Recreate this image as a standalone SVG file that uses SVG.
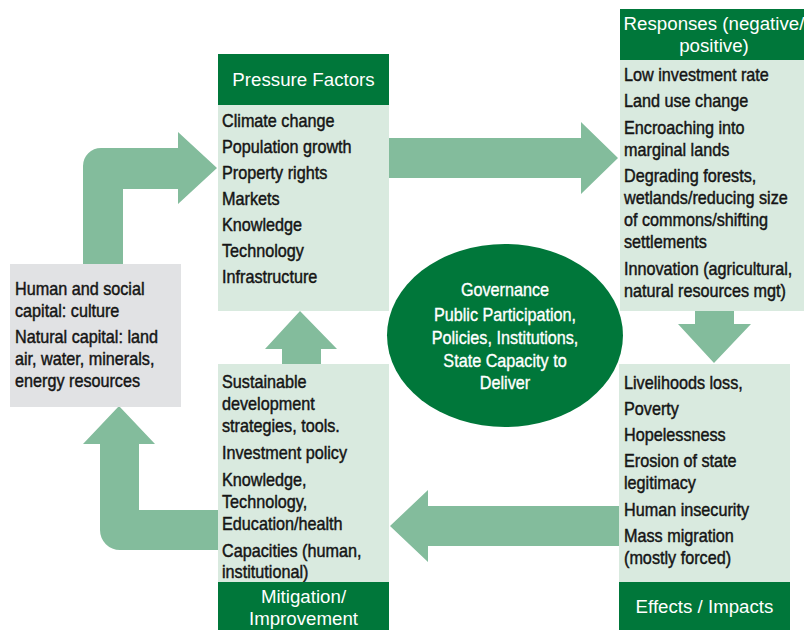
<svg xmlns="http://www.w3.org/2000/svg" width="804" height="630" viewBox="0 0 804 630">
<style>
.hdr{fill:#00773a}
.body{fill:#d9eadf}
.grey{fill:#e1e2e4}
.arrow{fill:#83bc9c}
.ht{font-family:"Liberation Sans",Arial,sans-serif;font-size:18.7px;fill:#ffffff}
.bt{font-family:"Liberation Sans",Arial,sans-serif;font-size:18px;fill:#151515;stroke:#151515;stroke-width:0.45px}
.wt{font-family:"Liberation Sans",Arial,sans-serif;font-size:18px;fill:#ffffff;stroke:#ffffff;stroke-width:0.35px;text-anchor:middle}
</style>
<rect width="804" height="630" fill="#ffffff"/>
<g id="connectors">
<path class="arrow" d="M83,264 L83,166 A18,18 0 0 1 101,148 L178,148 L178,132 L217,168 L178,204 L178,189 L123,189 L123,264 Z"/>
<path class="arrow" d="M119,406 L155,444 L139,444 L139,510 L218,510 L218,550 L120,550 A20,20 0 0 1 100,530 L100,444 L83,444 Z"/>
<path class="arrow" d="M300,311 L337,349 L321,349 L321,364 L282,364 L282,349 L265,349 Z"/>
<path class="arrow" d="M389,138 L581,138 L581,122 L618,158 L581,194 L581,178 L389,178 Z"/>
<path class="arrow" d="M695,310 L734,310 L734,324 L751,324 L714,363 L678,324 L695,324 Z"/>
<path class="arrow" d="M619,506 L428,506 L428,490 L390,526 L428,562 L428,546 L619,546 Z"/>
</g>
<g id="capital">
<rect class="grey" x="10" y="264" width="171" height="143"/>
<g transform="translate(15 0) scale(0.9 1)">
<text class="bt" x="0" y="295">Human and social</text>
<text class="bt" x="0" y="317">capital: culture</text>
<text class="bt" x="0" y="343">Natural capital: land</text>
<text class="bt" x="0" y="365">air, water, minerals,</text>
<text class="bt" x="0" y="387">energy resources</text>
</g>
</g>
<g id="pressure">
<rect class="hdr" x="218" y="54" width="171" height="51"/>
<text class="ht" x="303.5" y="86" text-anchor="middle">Pressure Factors</text>
<rect class="body" x="218" y="105" width="171" height="206"/>
<g transform="translate(222 0) scale(0.9 1)">
<text class="bt" x="0" y="127">Climate change</text>
<text class="bt" x="0" y="153">Population growth</text>
<text class="bt" x="0" y="179">Property rights</text>
<text class="bt" x="0" y="205">Markets</text>
<text class="bt" x="0" y="231">Knowledge</text>
<text class="bt" x="0" y="257">Technology</text>
<text class="bt" x="0" y="283">Infrastructure</text>
</g>
</g>
<g id="responses">
<rect class="hdr" x="620" y="9" width="184" height="51"/>
<text class="ht" x="714" y="30" text-anchor="middle">Responses (negative/</text>
<text class="ht" x="714" y="52" text-anchor="middle">positive)</text>
<rect class="body" x="620" y="60" width="184" height="251"/>
<g transform="translate(624 0) scale(0.9 1)">
<text class="bt" x="0" y="81">Low investment rate</text>
<text class="bt" x="0" y="107">Land use change</text>
<text class="bt" x="0" y="134">Encroaching into</text>
<text class="bt" x="0" y="156">marginal lands</text>
<text class="bt" x="0" y="182">Degrading forests,</text>
<text class="bt" x="0" y="204">wetlands/reducing size</text>
<text class="bt" x="0" y="226">of commons/shifting</text>
<text class="bt" x="0" y="248">settlements</text>
<text class="bt" x="0" y="275">Innovation (agricultural,</text>
<text class="bt" x="0" y="297">natural resources mgt)</text>
</g>
</g>
<g id="governance">
<ellipse class="hdr" cx="505" cy="335.5" rx="118" ry="91.5"/>
<g transform="translate(505 0) scale(0.9 1)">
<text class="wt" x="0" y="296">Governance</text>
<text class="wt" x="0" y="321">Public Participation,</text>
<text class="wt" x="0" y="344">Policies, Institutions,</text>
<text class="wt" x="0" y="367">State Capacity to</text>
<text class="wt" x="0" y="389">Deliver</text>
</g>
</g>
<g id="mitigation">
<rect class="body" x="218" y="364" width="171" height="218"/>
<g transform="translate(222 0) scale(0.9 1)">
<text class="bt" x="0" y="388">Sustainable</text>
<text class="bt" x="0" y="410">development</text>
<text class="bt" x="0" y="432">strategies, tools.</text>
<text class="bt" x="0" y="459">Investment policy</text>
<text class="bt" x="0" y="486">Knowledge,</text>
<text class="bt" x="0" y="508">Technology,</text>
<text class="bt" x="0" y="530">Education/health</text>
<text class="bt" x="0" y="557">Capacities (human,</text>
<text class="bt" x="0" y="578">institutional)</text>
</g>
<rect class="hdr" x="218" y="582" width="171" height="48"/>
<text class="ht" x="303.5" y="603" text-anchor="middle">Mitigation/</text>
<text class="ht" x="303.5" y="625" text-anchor="middle">Improvement</text>
</g>
<g id="effects">
<rect class="body" x="619" y="364" width="171" height="218"/>
<g transform="translate(624 0) scale(0.9 1)">
<text class="bt" x="0" y="389">Livelihoods loss,</text>
<text class="bt" x="0" y="415">Poverty</text>
<text class="bt" x="0" y="441">Hopelessness</text>
<text class="bt" x="0" y="467">Erosion of state</text>
<text class="bt" x="0" y="489">legitimacy</text>
<text class="bt" x="0" y="516">Human insecurity</text>
<text class="bt" x="0" y="542">Mass migration</text>
<text class="bt" x="0" y="564">(mostly forced)</text>
</g>
<rect class="hdr" x="619" y="582" width="171" height="48"/>
<text class="ht" x="704.5" y="613" text-anchor="middle">Effects / Impacts</text>
</g>
</svg>
